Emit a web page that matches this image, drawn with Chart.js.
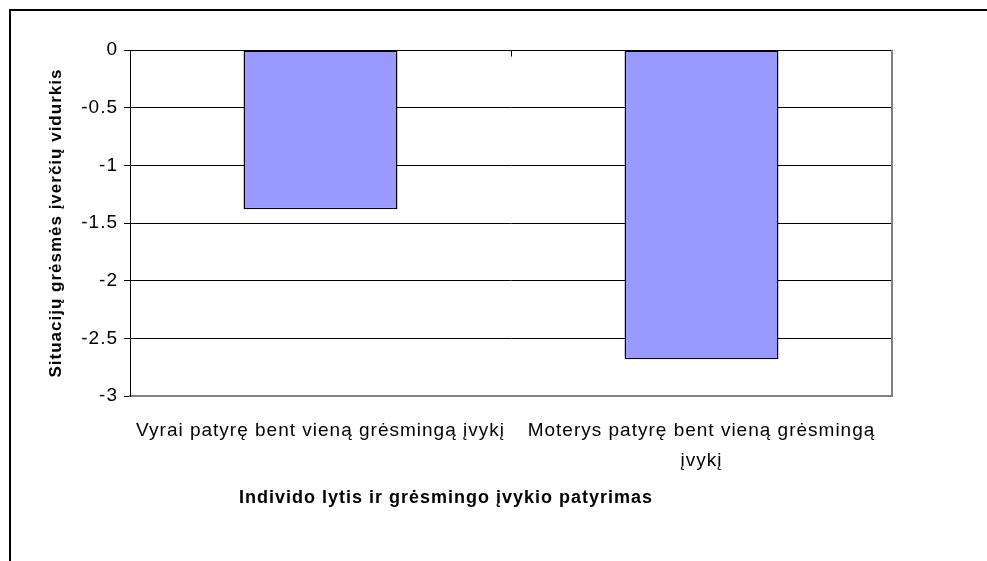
<!DOCTYPE html>
<html>
<head>
<meta charset="utf-8">
<script src="https://cdn.jsdelivr.net/npm/chart.js@4/dist/chart.umd.min.js"></script>
<style>
  html, body { margin: 0; padding: 0; background: #fff; }
  #wrap { position: relative; width: 987px; height: 561px; }
</style>
</head>
<body>
<div id="wrap"><canvas id="c" width="987" height="561"></canvas></div>
<script>
const categories = [
  'Vyrai patyrę bent vieną grėsmingą įvykį',
  ['Moterys patyrę bent vieną grėsmingą', 'įvykį']
];
const values = [-1.38, -2.68];
const yTitle = 'Situacijų grėsmės įverčių vidurkis';
const xTitle = 'Individo lytis ir grėsmingo įvykio patyrimas';
const yMin = -3, yMax = 0, yStep = 0.5;

const SPACING = '1px';
const framePlugin = {
  id: 'frame',
  beforeLayout(chart) { chart.ctx.letterSpacing = SPACING; },
  beforeDraw(chart) {
    const ctx = chart.ctx;
    ctx.letterSpacing = SPACING;
    ctx.save();
    ctx.fillStyle = '#fff';
    ctx.fillRect(0, 0, chart.width, chart.height);
    ctx.fillStyle = '#000';
    ctx.fillRect(9, 9, chart.width - 9, 2);
    ctx.fillRect(9, 9, 2, chart.height - 9);
    ctx.restore();
  },
  afterDatasetsDraw(chart) {
    const ctx = chart.ctx;
    const a = chart.chartArea;
    const xs = chart.scales.x;
    const ys = chart.scales.y;
    ctx.save();
    ctx.strokeStyle = '#808080';
    ctx.lineWidth = 2;
    ctx.beginPath();
    ctx.moveTo(a.right, a.top);
    ctx.lineTo(a.right, a.bottom);
    ctx.stroke();
    ctx.strokeStyle = '#000';
    ctx.lineWidth = 1;
    const y0 = Math.round(ys.getPixelForValue(0)) + 0.5;
    for (let i = 0; i < categories.length - 1; i++) {
      const x = Math.round(xs.getPixelForValue(i + 0.5)) + 0.5;
      ctx.beginPath();
      ctx.moveTo(x, y0);
      ctx.lineTo(x, y0 + 6);
      ctx.stroke();
    }
    ctx.restore();
  }
};

new Chart(document.getElementById('c'), {
  type: 'bar',
  data: {
    labels: categories,
    datasets: [{
      data: values,
      backgroundColor: '#9999FF',
      borderColor: '#000',
      borderWidth: 1.5,
      borderSkipped: false,
      barPercentage: 0.404,
      categoryPercentage: 1
    }]
  },
  options: {
    responsive: false,
    animation: false,
    devicePixelRatio: 1,
    layout: { padding: { top: 50, right: 95, left: 0, bottom: 0 } },
    plugins: {
      legend: { display: false },
      tooltip: { enabled: false },
      title: {
        display: true,
        position: 'bottom',
        text: xTitle,
        color: '#000',
        font: { family: 'Liberation Sans, Arial, sans-serif', size: 18, weight: 'bold', lineHeight: 1.1 },
        padding: { top: 11, bottom: 53 }
      }
    },
    scales: {
      x: {
        grid: { display: false },
        border: { display: true, color: '#808080', width: 2 },
        ticks: {
          color: '#000',
          padding: 12,
          maxRotation: 0,
          autoSkip: false,
          font: { family: 'Liberation Sans, Arial, sans-serif', size: 19, lineHeight: 1.55 }
        },
        afterFit(s) { s.height = 81; }
      },
      y: {
        min: yMin,
        max: yMax,
        ticks: {
          stepSize: yStep,
          color: '#000',
          padding: 6,
          font: { family: 'Liberation Sans, Arial, sans-serif', size: 19 },
          callback: v => String(v)
        },
        grid: {
          color: ctx => (ctx.tick && ctx.tick.value === yMin) ? '#808080' : '#000',
          tickColor: '#000',
          tickLength: 6,
          lineWidth: 1
        },
        border: { display: true, color: '#000', width: 1 },
        title: {
          display: true,
          text: yTitle,
          color: '#000',
          font: { family: 'Liberation Sans, Arial, sans-serif', size: 17, weight: 'bold', lineHeight: 1.1 },
          padding: { top: 47, bottom: 0 }
        },
        afterFit(s) { s.width = 130; }
      }
    }
  },
  plugins: [framePlugin]
});
</script>
</body>
</html>
